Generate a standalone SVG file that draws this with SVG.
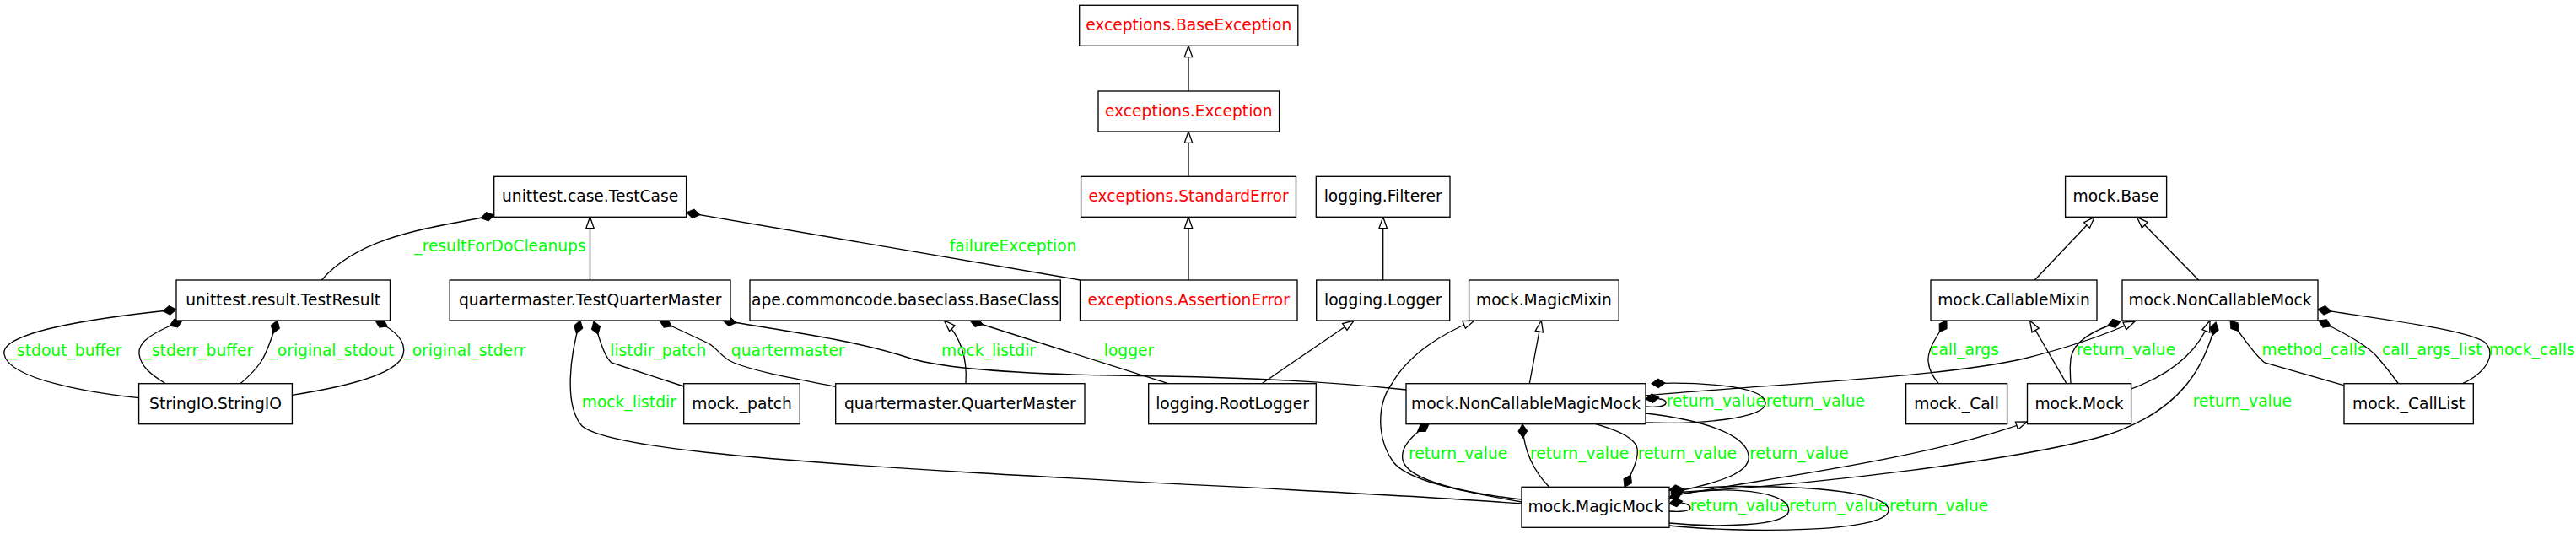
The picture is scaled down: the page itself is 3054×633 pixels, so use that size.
<svg xmlns="http://www.w3.org/2000/svg" width="3054" height="633" viewBox="0 0 3054 633">
<style>
.node rect { fill: #ffffff; stroke: #000000; stroke-width: 1.33; }
.node text { font-family: "DejaVu Sans", "Liberation Sans", sans-serif; font-size: 18.67px; text-anchor: middle; fill: #000000; }
.node.exc text { fill: #ff0000; }
.edge path { fill: none; stroke: #000000; stroke-width: 1.33; }
.comp path { marker-start: url(#dia); }
.inh path { marker-end: url(#tri); }
.lbl { font-family: "DejaVu Sans", "Liberation Sans", sans-serif; font-size: 18.67px; fill: #00ff00; text-anchor: middle; }
</style>
<defs>
<marker id="dia" markerUnits="userSpaceOnUse" markerWidth="20" markerHeight="12" refX="0" refY="0" orient="auto-start-reverse" overflow="visible">
<path d="M0,0 L-8,-5.3 L-16,0 L-8,5.3 Z" fill="#000000" stroke="#000000" stroke-width="1"/>
</marker>
<marker id="tri" markerUnits="userSpaceOnUse" markerWidth="16" markerHeight="12" refX="0" refY="0" orient="auto" overflow="visible">
<path d="M0,0 L-13.3,-4.7 L-13.3,4.7 Z" fill="#ffffff" stroke="#000000" stroke-width="1.33"/>
</marker>
</defs>
<rect x="0" y="0" width="3054" height="633" fill="#ffffff"/>

<g id="connectors">
<g class="edge inh"><path d="M1409,108 L1409,54.3"/></g>
<g class="edge inh"><path d="M1409,209.3 L1409,156"/></g>
<g class="edge inh"><path d="M1409,332 L1409,257.3"/></g>
<g class="edge inh"><path d="M699.5,332 L699.5,257.3"/></g>
<g class="edge inh"><path d="M1639.7,332 L1639.7,257.3"/></g>
<g class="edge inh"><path d="M1145,454.7 C1147,425 1140,400 1119.3,380"/></g>
<g class="edge inh"><path d="M1496,454.7 L1605.3,380"/></g>
<g class="edge inh"><path d="M1813.3,454.7 L1827.3,380"/></g>
<g class="edge inh"><path d="M1804,595 C1730,582 1670,570 1652,548 C1632,520 1632,480 1650,455 C1670,420 1710,395 1748,380"/></g>
<g class="edge inh"><path d="M1981,588 C2100,566 2280,545 2403.5,500"/></g>
<g class="edge inh"><path d="M2450,454.7 L2406.5,380"/></g>
<g class="edge inh"><path d="M2526.6,461 C2570,445 2605,420 2620,380"/></g>
<g class="edge inh"><path d="M1951,469 C2100,455 2300,448 2400,425 C2460,410 2500,395 2531,381"/></g>
<g class="edge inh"><path d="M2412.3,332 L2483.2,257.3"/></g>
<g class="edge inh"><path d="M2606.6,332 L2533.4,257.3"/></g>

<g class="edge comp"><path d="M585.7,255 C530,268 430,275 381.4,332"/><text class="lbl" x="593" y="298.3">_resultForDoCleanups</text></g>
<g class="edge comp"><path d="M814,252 L1280.5,332"/><text class="lbl" x="1201" y="298.3">failureException</text></g>
<g class="edge comp"><path d="M209,367 C100,378 0,395 5,420 C10,450 110,466 164.6,471.7"/><text class="lbl" x="77.6" y="421.7">_stdout_buffer</text></g>
<g class="edge comp"><path d="M216,380 C180,395 163,405 165,420 C167,435 180,445 196.4,454.7"/><text class="lbl" x="235.4" y="421.7">_stderr_buffer</text></g>
<g class="edge comp"><path d="M329,380 C322,400 318,415 310,428 C302,440 293,448 285,454.7"/><text class="lbl" x="393.4" y="421.7">_original_stdout</text></g>
<g class="edge comp"><path d="M445,380 C470,392 482,405 478,420 C472,445 400,460 346.4,468.3"/><text class="lbl" x="551.2" y="421.7">_original_stderr</text></g>
<g class="edge comp"><path d="M688,380 C676,420 668,480 690,505 C720,530 900,545 1150,560 C1400,575 1650,585 1804,597"/><text class="lbl" x="745.8" y="482.7">mock_listdir</text></g>
<g class="edge comp"><path d="M704,381 C712,405 716,422 725,430 L810.7,458"/><text class="lbl" x="780.3" y="421.7">listdir_patch</text></g>
<g class="edge comp"><path d="M782,380 L840,407 C852,414 855,424 870,430 C900,442 950,450 990.7,458.3"/><text class="lbl" x="934.2" y="421.7">quartermaster</text></g>
<g class="edge comp"><path d="M857,380 C950,395 1020,405 1080,425 C1130,440 1250,445 1380,446 C1500,448 1600,455 1667.3,462"/><text class="lbl" x="1172" y="421.7">mock_listdir</text></g>
<g class="edge comp"><path d="M1150,380 L1385,454.7"/><text class="lbl" x="1333.8" y="421.7">_logger</text></g>
<g class="edge comp"><path d="M1694,502.7 C1675,515 1660,530 1663,545 C1668,570 1740,585 1804,592"/><text class="lbl" x="1728.6" y="544">return_value</text></g>
<g class="edge comp"><path d="M1805,503 C1806,530 1815,555 1836.7,577.3"/><text class="lbl" x="1872.7" y="544">return_value</text></g>
<g class="edge comp"><path d="M1926,577.3 C1935,560 1945,540 1940,528 C1932,515 1910,508 1891.8,502.7"/><text class="lbl" x="2000.3" y="544">return_value</text></g>
<g class="edge comp"><path d="M1981,584 C2040,572 2076,560 2073,540 C2070,515 2020,498 1951,490"/><text class="lbl" x="2133" y="544">return_value</text></g>
<g class="edge comp"><path d="M1951,473 C1968,471 1976,474 1975,478 C1974,482 1962,483 1951,482"/><text class="lbl" x="2034.3" y="482.3">return_value</text></g>
<g class="edge comp"><path d="M1958,454.7 C2000,453 2090,455 2093,477 C2096,497 2010,503 1951,501"/><text class="lbl" x="2152.4" y="482.3">return_value</text></g>
<g class="edge comp"><path d="M1979,597 C1995,594 2004,598 2004,602 C2004,606 1992,607 1979,606"/><text class="lbl" x="2062.3" y="605.7">return_value</text></g>
<g class="edge comp"><path d="M1979,590 C2020,575 2118,578 2120.7,604 C2123,625 2030,625 1979,620"/><text class="lbl" x="2179.8" y="605.7">return_value</text></g>
<g class="edge comp"><path d="M1979,581 C2050,572 2236,575 2239,604 C2242,632 2060,632 1979,623"/><text class="lbl" x="2298.7" y="605.7">return_value</text></g>
<g class="edge comp"><path d="M2308,380 C2295,400 2285,415 2286,428 C2287,440 2293,448 2298.2,454.7"/><text class="lbl" x="2329" y="420.7">call_args</text></g>
<g class="edge comp"><path d="M2514,381 C2480,392 2458,405 2455,425 C2453,440 2455,448 2455,454.7"/><text class="lbl" x="2520.5" y="421">return_value</text></g>
<g class="edge comp"><path d="M2627,382 C2615,430 2590,485 2500,515 C2400,545 2150,575 1981,584"/><text class="lbl" x="2658.4" y="482">return_value</text></g>
<g class="edge comp"><path d="M2644,380 C2660,400 2672,420 2685,430 L2778.3,456.7"/><text class="lbl" x="2743.2" y="421">method_calls</text></g>
<g class="edge comp"><path d="M2749,380 C2780,395 2808,410 2820,425 C2830,437 2838,447 2843.3,454.7"/><text class="lbl" x="2883.3" y="420.7">call_args_list</text></g>
<g class="edge comp"><path d="M2748,366.7 C2820,378 2920,390 2945,405 C2960,418 2950,440 2919.6,454.7"/><text class="lbl" x="3001.8" y="420.7">mock_calls</text></g>
</g>

<g id="n1" class="node exc"><rect x="1279.7" y="6.3" width="259.1" height="48"/><text x="1409.2" y="36.3">exceptions.BaseException</text></g>
<g id="n2" class="node exc"><rect x="1302" y="108" width="214.6" height="48"/><text x="1409.3" y="138">exceptions.Exception</text></g>
<g id="n3" class="node exc"><rect x="1281.6" y="209.3" width="254.9" height="48"/><text x="1409" y="239.3">exceptions.StandardError</text></g>
<g id="n4" class="node exc"><rect x="1280.5" y="332" width="257.5" height="48"/><text x="1409.2" y="362">exceptions.AssertionError</text></g>
<g id="n5" class="node"><rect x="585.7" y="209.3" width="227.9" height="48"/><text x="699.6" y="239.3">unittest.case.TestCase</text></g>
<g id="n6" class="node"><rect x="209" y="332" width="253.5" height="48"/><text x="335.7" y="362">unittest.result.TestResult</text></g>
<g id="n7" class="node"><rect x="533.2" y="332" width="332.8" height="48"/><text x="699.6" y="362">quartermaster.TestQuarterMaster</text></g>
<g id="n8" class="node"><rect x="889" y="332" width="368.3" height="48"/><text x="1073.1" y="362">ape.commoncode.baseclass.BaseClass</text></g>
<g id="n9" class="node"><rect x="1560.3" y="209.3" width="158.7" height="48"/><text x="1639.7" y="239.3">logging.Filterer</text></g>
<g id="n10" class="node"><rect x="1560.7" y="332" width="158" height="48"/><text x="1639.7" y="362">logging.Logger</text></g>
<g id="n11" class="node"><rect x="1741.6" y="332" width="177.6" height="48"/><text x="1830.4" y="362">mock.MagicMixin</text></g>
<g id="n12" class="node"><rect x="2448.6" y="209.3" width="120" height="48"/><text x="2508.6" y="239.3">mock.Base</text></g>
<g id="n13" class="node"><rect x="2289" y="332" width="197" height="48"/><text x="2387.5" y="362">mock.CallableMixin</text></g>
<g id="n14" class="node"><rect x="2516" y="332" width="232" height="48"/><text x="2632" y="362">mock.NonCallableMock</text></g>
<g id="n15" class="node"><rect x="164.6" y="454.7" width="181.8" height="48"/><text x="255.5" y="484.7">StringIO.StringIO</text></g>
<g id="n16" class="node"><rect x="810.7" y="454.7" width="137.6" height="48"/><text x="879.5" y="484.7">mock._patch</text></g>
<g id="n17" class="node"><rect x="990.7" y="454.7" width="295.3" height="48"/><text x="1138.3" y="484.7">quartermaster.QuarterMaster</text></g>
<g id="n18" class="node"><rect x="1361.7" y="454.7" width="198.6" height="48"/><text x="1461" y="484.7">logging.RootLogger</text></g>
<g id="n19" class="node"><rect x="1667" y="454.7" width="284" height="48"/><text x="1809" y="484.7">mock.NonCallableMagicMock</text></g>
<g id="n20" class="node"><rect x="2259.6" y="454.7" width="120" height="48"/><text x="2319.6" y="484.7">mock._Call</text></g>
<g id="n21" class="node"><rect x="2403.5" y="454.7" width="123.1" height="48"/><text x="2465" y="484.7">mock.Mock</text></g>
<g id="n22" class="node"><rect x="2779" y="454.7" width="153.3" height="48"/><text x="2855.7" y="484.7">mock._CallList</text></g>
<g id="n23" class="node"><rect x="1804" y="577.3" width="175" height="48"/><text x="1891.5" y="607.3">mock.MagicMock</text></g>
</svg>
